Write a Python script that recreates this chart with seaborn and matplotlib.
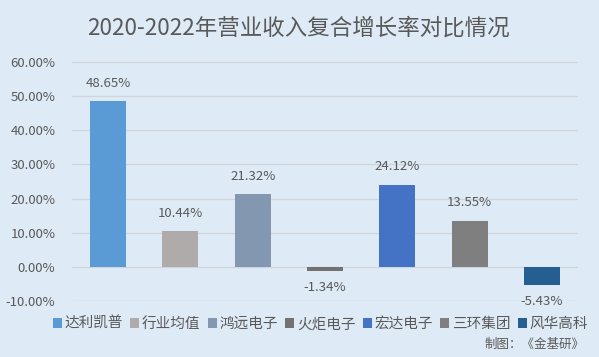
import numpy as np
import matplotlib.pyplot as plt
import pandas as pd
import seaborn as sns
from matplotlib.patches import Patch

companies = ["达利凯普", "行业均值", "鸿远电子", "火炬电子", "宏达电子", "三环集团", "风华高科"]
growth = [48.65, 10.44, 21.32, -1.34, 24.12, 13.55, -5.43]
colors = ["#5B9BD5", "#AFABAB", "#8497B0", "#767171", "#4472C4", "#7F7F7F", "#255E91"]
yticks = [-10, 0, 10, 20, 30, 40, 50, 60]

bg = "#DEEAF6"
text_col = "#595959"

sns.set_theme(style="white")
plt.rcParams["font.family"] = ["Noto Sans CJK SC", "DejaVu Sans"]

df = pd.DataFrame({"company": companies, "growth": growth})

fig = plt.figure(figsize=(5.99, 3.57), dpi=100, facecolor=bg)
ax = fig.add_axes([72 / 599, 1 - 301 / 357, 506 / 599, 239 / 357])
ax.set_facecolor(bg)

sns.barplot(data=df, x="company", y="growth", hue="company", palette=colors,
            order=companies, hue_order=companies, dodge=False, width=0.5,
            saturation=1, linewidth=0, legend=False, ax=ax)

ax.set_ylim(-10, 60)
ax.set_yticks(yticks)
ax.set_yticklabels([f"{v:.2f}%" for v in yticks], color=text_col, fontsize=9.5)
ax.set_xticks([])
ax.set_xlabel("")
ax.set_ylabel("")
ax.tick_params(axis="y", length=0, pad=12)
ax.grid(axis="y", color="#D0D5DB", linewidth=0.9)
ax.set_axisbelow(True)
for s in ax.spines.values():
    s.set_visible(False)

for i, v in enumerate(growth):
    if v >= 0:
        ax.annotate(f"{v:.2f}%", (i, v), xytext=(0, 8), textcoords="offset points",
                    ha="center", va="bottom", fontsize=9.5, color=text_col)
    else:
        ax.annotate(f"{v:.2f}%", (i, v), xytext=(0, -7), textcoords="offset points",
                    ha="center", va="top", fontsize=9.5, color=text_col)

fig.text(298 / 599, 1 - 28 / 357, "2020-2022年营业收入复合增长率对比情况", ha="center", va="center",
         fontsize=16.2, color=text_col)

handles = [Patch(facecolor=c, edgecolor="none") for c in colors]
fig.legend(handles, companies, loc="center", bbox_to_anchor=(0.535, 1 - 324 / 357),
           ncol=7, frameon=False, fontsize=10.5, labelcolor=text_col,
           handlelength=0.6, handleheight=0.6, handletextpad=0.2, columnspacing=0.5)

fig.text(585 / 599, 1 - 344 / 357, "制图：《金基研》", ha="right", va="center",
         fontsize=9, color=text_col)

fig.savefig("out.png", dpi=100, facecolor=bg)
